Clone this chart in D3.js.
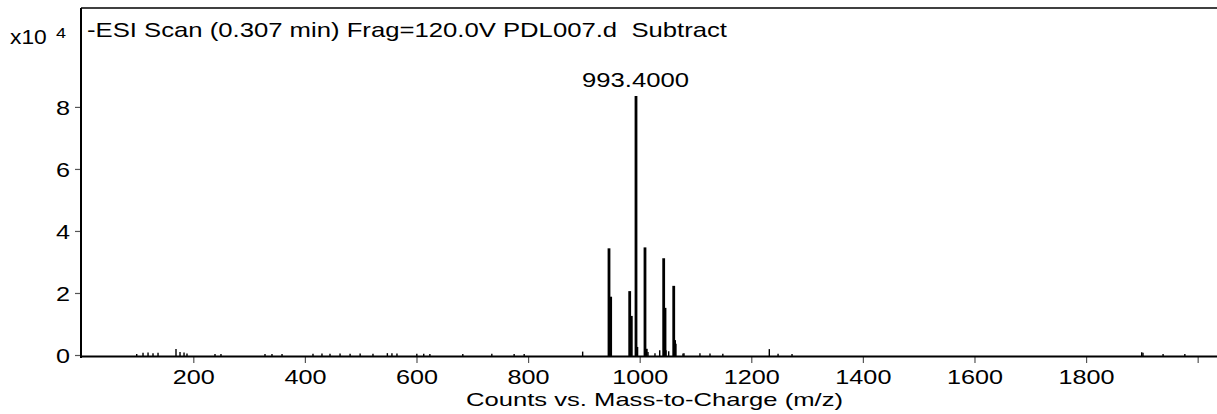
<!DOCTYPE html>
<html>
<head>
<meta charset="utf-8">
<script src="https://cdn.jsdelivr.net/npm/d3@7/dist/d3.min.js"></script>
<style>
  html, body { margin: 0; padding: 0; background: #fff; }
  svg { display: block; }
  text { font-family: "Liberation Sans", Arial, Helvetica, sans-serif; fill: #000; white-space: pre; }
</style>
</head>
<body>
<svg id="chart" width="1217" height="414"></svg>
<script>
// ---- data (intensity in units of x10^4 counts) ----
const titleText = "-ESI Scan (0.307 min) Frag=120.0V PDL007.d  Subtract";
const xAxisTitle = "Counts vs. Mass-to-Charge (m/z)";
const peakLabel = "993.4000";
const peakLabelMz = 993.4;
const xTicks = [200, 400, 600, 800, 1000, 1200, 1400, 1600, 1800, 2000];
const xTickLabels = ["200", "400", "600", "800", "1000", "1200", "1400", "1600", "1800", ""];
const yTicks = [0, 2, 4, 6, 8];

// major cluster peaks
const majorMz  = [945.0, 948.0, 982.1, 985.0, 993.4, 995.7, 1009.5, 1012.6, 1043.0, 1045.4, 1061.0, 1063.3];
const majorInt = [3.44,  1.88,  2.06,  1.26,  8.35,  0.26,  3.47,   0.20,   3.12,   1.52,   2.23,   0.48];

// minor / noise peaks
const minorMz  = [98.6, 109.9, 118.9, 127.8, 136.8, 169.0, 176.2, 183.4, 188.7, 238.9, 249.6,
                  328.5, 341, 359, 414.5, 430.6, 445, 463, 481, 499, 522, 547.8, 556, 565,
                  600.6, 613, 624, 683, 735, 775, 793, 897.8, 1014.9, 1027.4, 1035.9, 1047.2,
                  1052, 1065, 1077.6, 1079.4, 1108, 1126, 1149, 1232.3, 1248, 1273,
                  1899.7, 1902, 1938, 1977];
const minorInt = [0.03, 0.07, 0.08, 0.06, 0.07, 0.19, 0.10, 0.08, 0.05, 0.03, 0.03,
                  0.03, 0.03, 0.03, 0.04, 0.05, 0.04, 0.05, 0.04, 0.05, 0.04, 0.06, 0.06, 0.05,
                  0.04, 0.04, 0.03, 0.03, 0.04, 0.03, 0.03, 0.11, 0.10, 0.06, 0.15, 0.15,
                  0.12, 0.36, 0.05, 0.06, 0.06, 0.05, 0.04, 0.19, 0.04, 0.03,
                  0.09, 0.07, 0.03, 0.03];

// ---- layout ----
const svg = d3.select("#chart");
const plotLeft = 81, plotRight = 1217, plotTop = 8, zeroY = 355;
const stretch = 1.2; // horizontal text stretch seen in the reference

const x = d3.scaleLinear().domain([0, 2035]).range([81.7, 1217.2]);
const y = d3.scaleLinear().domain([0, 11.19]).range([zeroY, plotTop]);

// frame: top line
svg.append("line").attr("x1", plotLeft).attr("x2", plotRight).attr("y1", plotTop).attr("y2", plotTop)
  .attr("stroke", "#000").attr("stroke-width", 1.5);

// peaks
const peaks = majorMz.map((m, i) => ({ m, v: majorInt[i], major: true }))
  .concat(minorMz.map((m, i) => ({ m, v: minorInt[i], major: false })));
svg.append("g").selectAll("line").data(peaks).join("line")
  .attr("x1", d => x(d.m)).attr("x2", d => x(d.m))
  .attr("y1", y(0) + 1).attr("y2", d => y(d.v))
  .attr("stroke", "#000")
  .attr("stroke-width", d => d.major ? (d.v > 1 ? 2.8 : 2) : 1.4);

// y axis
const yAxis = svg.append("g").attr("transform", `translate(${plotLeft},0)`)
  .call(d3.axisLeft(y).tickValues(yTicks).tickSize(6).tickPadding(4).tickFormat(d3.format("d")));
yAxis.select(".domain").remove();
yAxis.selectAll(".tick line").attr("stroke", "#555").attr("stroke-width", 1.2);
yAxis.selectAll(".tick text")
  .attr("font-size", 21).attr("x", 0).attr("dy", "0.36em")
  .attr("transform", `translate(-11,0) scale(${stretch},1)`);
svg.append("line").attr("x1", plotLeft).attr("x2", plotLeft).attr("y1", plotTop).attr("y2", 358)
  .attr("stroke", "#000").attr("stroke-width", 2);

// x axis
const xAxis = svg.append("g").attr("transform", `translate(0,357)`)
  .call(d3.axisBottom(x).tickValues(xTicks).tickSize(6).tickPadding(8)
    .tickFormat((d, i) => xTickLabels[i]));
xAxis.select(".domain").remove();
xAxis.selectAll(".tick line").attr("stroke", "#555").attr("stroke-width", 1.2);
xAxis.selectAll(".tick text")
  .attr("font-size", 21).attr("y", 0).attr("dy", 0)
  .attr("transform", `translate(0,27) scale(${stretch},1)`);
svg.append("line").attr("x1", plotLeft).attr("x2", plotRight).attr("y1", 356.5).attr("y2", 356.5)
  .attr("stroke", "#000").attr("stroke-width", 2);

// scale factor label
svg.append("text").attr("font-size", 20)
  .attr("transform", `translate(10,44) scale(${stretch * 0.95},1)`).text("x10");
svg.append("text").attr("font-size", 15)
  .attr("transform", `translate(56,38) scale(${stretch},1)`).text("4");

// title
svg.append("text").attr("font-size", 21).attr("x", 87).attr("y", 37)
  .attr("textLength", 640).attr("lengthAdjust", "spacingAndGlyphs").text(titleText);

// peak label
svg.append("text").attr("font-size", 21).attr("x", 582).attr("y", 87)
  .attr("textLength", 107).attr("lengthAdjust", "spacingAndGlyphs").text(peakLabel);

// x axis title
svg.append("text").attr("font-size", 19).attr("x", 466).attr("y", 406)
  .attr("textLength", 377).attr("lengthAdjust", "spacingAndGlyphs").text(xAxisTitle);
</script>
</body>
</html>
